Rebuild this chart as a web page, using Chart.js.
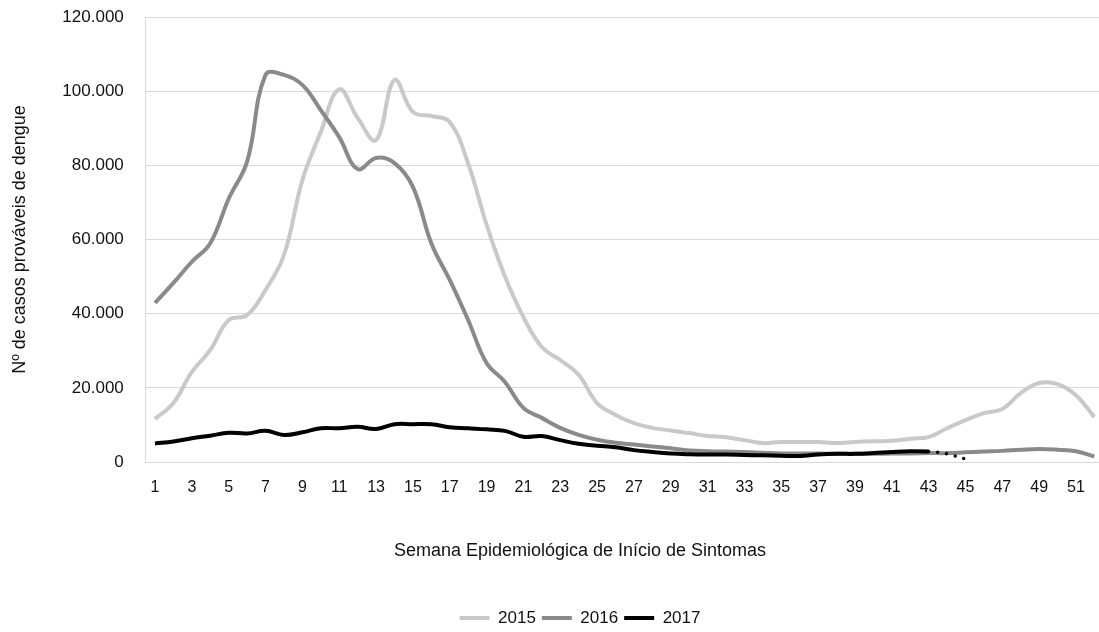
<!DOCTYPE html>
<html lang="pt-BR">
<head>
<meta charset="utf-8">
<title>Casos prováveis de dengue</title>
<script src="https://cdn.jsdelivr.net/npm/chart.js@4.4.1/dist/chart.umd.min.js"></script>
<style>
	html, body { margin: 0; padding: 0; background: #fff; overflow: hidden; }
	#wrap { width: 1099px; height: 632px; overflow: hidden; }
	canvas { display: block; }
</style>
</head>
<body>
<div id="wrap">
	<canvas id="dengueChart" width="1160" height="632"></canvas>
</div>
<script>
const weeks = ['1', '2', '3', '4', '5', '6', '7', '8', '9', '10', '11', '12', '13', '14', '15', '16', '17', '18', '19', '20',
	'21', '22', '23', '24', '25', '26', '27', '28', '29', '30', '31', '32', '33', '34', '35', '36', '37', '38', '39', '40',
	'41', '42', '43', '44', '45', '46', '47', '48', '49', '50', '51', '52'];

const cases2015 = [11600, 15900, 24300, 30200, 38300, 39600, 46400, 55800, 76000, 89000, 100500, 92800, 86800, 103000, 94400, 93300,
	91700, 80500, 64000, 50000, 39100, 31000, 27500, 23500, 15900, 12700, 10500, 9200, 8500, 7800, 7000, 6700, 5900, 5100, 5400, 5400,
	5400, 5100, 5400, 5600, 5700, 6300, 6700, 9100, 11300, 13200, 14300, 18600, 21300, 21000, 18000, 12100];

const cases2016 = [42900, 48300, 54000, 59000, 71000, 81000, 104400, 104400, 101700, 94900, 87600, 79000, 82000, 80600, 74200, 59000,
	49100, 38300, 26700, 21600, 14600, 11900, 9200, 7300, 6000, 5200, 4700, 4200, 3700, 3100, 2900, 2800, 2700, 2500, 2300, 2300,
	2300, 2200, 2200, 2200, 2300, 2300, 2400, 2400, 2600, 2800, 3000, 3300, 3500, 3300, 2900, 1500];

// 2017 is only known up to week 45, the last weeks are still open (dotted)
const cases2017 = [5000, 5500, 6400, 7100, 7900, 7700, 8400, 7300, 8000, 9100, 9100, 9500, 8900, 10200, 10200, 10200,
	9400, 9100, 8800, 8400, 6800, 7000, 5900, 4900, 4400, 4000, 3200, 2700, 2300, 2100, 2000, 2000, 1900, 1800, 1700, 1600,
	2000, 2200, 2200, 2400, 2700, 2900, 2800, 2200, 800];
const lastSolidWeek = 43;

const yTicks = [0, 20000, 40000, 60000, 80000, 100000, 120000];

const fontFamily = '"Liberation Sans", Arial, sans-serif';
const gridColor = '#d9d9d9';

document.addEventListener('DOMContentLoaded', function () {
	drawChart();
});

function formatThousands(value) {
	return value.toLocaleString('de-DE');
}

function lineDataset(label, data, color, order) {
	return {
		label: label,
		data: data,
		borderColor: color,
		backgroundColor: color,
		borderWidth: 4,
		pointRadius: 0,
		pointHoverRadius: 0,
		tension: 0.4,
		order: order
	};
}

function drawChart() {
	const canvas = document.getElementById('dengueChart');

	const ds2017 = lineDataset('2017', cases2017, '#000000', 1);
	ds2017.segment = {
		borderDash: ctx => ctx.p0DataIndex >= lastSolidWeek - 1 ? [0, 9] : undefined,
		borderCapStyle: ctx => ctx.p0DataIndex >= lastSolidWeek - 1 ? 'round' : undefined,
		borderWidth: ctx => ctx.p0DataIndex >= lastSolidWeek - 1 ? 3.5 : undefined
	};

	new Chart(canvas, {
		type: 'line',
		data: {
			labels: weeks,
			datasets: [
				lineDataset('2015', cases2015, '#c9c9c9', 3),
				lineDataset('2016', cases2016, '#8a8a8a', 2),
				ds2017
			]
		},
		options: {
			responsive: false,
			devicePixelRatio: 1,
			animation: false,
			layout: {
				padding: { top: 17, left: 0, right: 0, bottom: -4.5 }
			},
			scales: {
				x: {
					offset: true,
					grid: { display: false, drawTicks: false },
					border: { display: false },
					ticks: {
						autoSkip: false,
						maxRotation: 0,
						padding: 16,
						color: '#111',
						font: { family: fontFamily, size: 16 },
						callback: function (value, index) {
							return index % 2 === 0 ? weeks[index] : '';
						}
					}
				},
				y: {
					min: 0,
					max: 120000,
					afterBuildTicks: function (scale) {
						scale.ticks = yTicks.map(v => ({ value: v }));
					},
					afterFit: function (scale) {
						// fixed axis width, and no extra room above the top label
						scale.width = 145.8;
						scale.paddingTop = 0;
						scale.paddingBottom = 0;
					},
					grid: { color: gridColor, lineWidth: 1, drawTicks: false },
					border: { display: true, color: gridColor, width: 1 },
					ticks: {
						padding: 22,
						color: '#111',
						font: { family: fontFamily, size: 17 },
						callback: value => formatThousands(value)
					},
					title: {
						display: true,
						text: 'Nº de casos prováveis de dengue',
						color: '#111',
						padding: { top: 9, bottom: 0 },
						font: { family: fontFamily, size: 18 }
					}
				},
				// empty axis on the right, only there so the plot runs past the picture edge
				spacer: {
					type: 'linear',
					position: 'right',
					grid: { display: false },
					border: { display: false },
					ticks: { display: false },
					afterFit: function (scale) {
						scale.width = 56.4;
					}
				}
			},
			plugins: {
				title: {
					display: true,
					position: 'bottom',
					weight: 500,
					text: 'Semana Epidemiológica de Início de Sintomas',
					color: '#111',
					padding: { top: 27, bottom: 41.7 },
					font: { family: fontFamily, size: 18, weight: 'normal' }
				},
				legend: {
					position: 'bottom',
					labels: {
						usePointStyle: true,
						pointStyle: 'line',
						pointStyleWidth: 30,
						padding: 6,
						color: '#111',
						font: { family: fontFamily, size: 17 },
						sort: (a, b) => a.datasetIndex - b.datasetIndex
					}
				},
				tooltip: { enabled: false }
			}
		}
	});
}
</script>
</body>
</html>
